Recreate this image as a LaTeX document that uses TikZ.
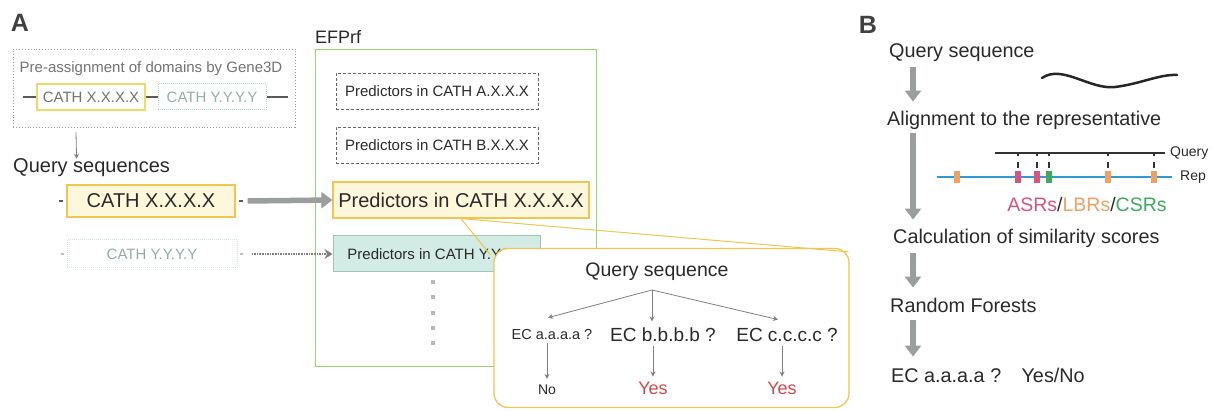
\documentclass[tikz,border=0pt]{standalone}
\usepackage{fontspec}
\setmainfont{Liberation Sans}
\usetikzlibrary{arrows.meta}
\definecolor{lyel}{HTML}{EEDC6A}
\definecolor{oyel}{HTML}{EFC650}
\definecolor{fyel}{HTML}{FDF8DC}
\definecolor{teal1}{HTML}{A9D6CB}
\definecolor{tealfill}{HTML}{D2EBE4}
\definecolor{grn}{HTML}{94D46E}
\definecolor{arrowgray}{HTML}{9A9E9E}
\definecolor{txt}{HTML}{2A2A2A}
\definecolor{redy}{HTML}{D0484F}
\definecolor{asr}{HTML}{D9537F}
\definecolor{lbr}{HTML}{F0A064}
\definecolor{csr}{HTML}{3DAA60}
\definecolor{repblue}{HTML}{2E9AD6}
\begin{document}
\begin{tikzpicture}[x=1pt,y=-1pt,
  every node/.style={inner sep=0pt, text=txt},
  fs/.style={font=\fontsize{#1}{#1}\selectfont},
  panellabel/.style={font=\fontsize{25}{25}\selectfont\bfseries, text=black!75},
  bigarrow/.style={draw=arrowgray, line width=5.5pt, -{Triangle[width=16pt,length=11pt]}},
  thinarrow/.style={draw=gray, line width=0.8pt, -{Stealth[length=5pt,width=5pt]}},
  dotarrow/.style={draw=gray, line width=1.6pt, densely dotted, -{Stealth[length=8pt,width=10pt]}},
  seqline/.style={draw=gray!70!black, line width=1.5pt},
  predbox/.style={draw=gray!80!black, densely dashed, line width=0.7pt, minimum width=202pt, minimum height=36pt, fs=15},
  calloutline/.style={draw=oyel, line width=1pt}
]
\useasboundingbox[fill=white] (0,0) rectangle (1215,411);

% ---------------- Panel A ----------------
\node[panellabel] (la) at (20,23) {A};

\node[draw=gray!80, dotted, line width=0.9pt, minimum width=282pt, minimum height=78pt] (g3) at (154,88) {};
\node[fs=15, text=gray!90!black] (g3t) at (151,69) {Pre-assignment of domains by Gene3D};
\node[draw=lyel, line width=1.2pt, minimum width=108pt, minimum height=26pt, fs=15, text=gray!90!black] (gx) at (91,97) {CATH X.X.X.X};
\node[draw=teal1, densely dotted, line width=1pt, minimum width=108pt, minimum height=26pt, fs=15, text=teal1!55!gray] (gy) at (212,97) {CATH Y.Y.Y.Y};
\draw[seqline] ([xshift=-13pt]gx.west) -- (gx.west);
\draw[seqline] (gx.east) -- (gy.west);
\draw[seqline] (gy.east) -- ([xshift=21pt]gy.east);

\node[fs=20, anchor=west] (qs) at (13,168) {Query sequences};
\draw[thinarrow] ([xshift=-78pt,yshift=-5pt]g3.south) -- ([xshift=-15pt]qs.north);

\node[draw=oyel, fill=fyel, line width=1.2pt, minimum width=168pt, minimum height=32pt, fs=20] (cx) at (151,201) {CATH X.X.X.X};
\draw[seqline] ([xshift=-7pt]cx.west) -- ([xshift=-3pt]cx.west);
\draw[seqline] ([xshift=3pt]cx.east) -- ([xshift=7pt]cx.east);

\node[draw=teal1!60, densely dotted, line width=1pt, minimum width=170pt, minimum height=28pt, fs=15, text=teal1!50!gray] (cy) at (152,254) {CATH Y.Y.Y.Y};
\draw[seqline, draw=gray!50] ([xshift=-6pt]cy.west) -- ([xshift=-3pt]cy.west);
\draw[seqline, draw=gray!50] ([xshift=2pt]cy.east) -- ([xshift=5pt]cy.east);

% EFPrf
\node[draw=grn, line width=1pt, minimum width=281pt, minimum height=317pt] (ef) at (455.5,208.5) {};
\node[fs=18, anchor=west] (eft) at (315,37) {EFPrf};
\node[predbox] (pa) at (437,91) {Predictors in CATH A.X.X.X};
\node[predbox] (pb) at (437,145) {Predictors in CATH B.X.X.X};
\node[draw=oyel, fill=fyel, line width=1.2pt, minimum width=256pt, minimum height=36pt, fs=20] (px) at (461,200) {Predictors in CATH X.X.X.X};
\node[draw=teal1!80!gray, fill=tealfill, line width=1pt, minimum width=207pt, minimum height=36pt, fs=15] (py) at (436.5,254) {Predictors in CATH Y.Y.Y.Y};
\foreach \yy [count=\i] in {282,297,313,328,343}
  \node[fill=gray!55, minimum size=4pt] (dot\i) at (433,\yy) {};

\draw[bigarrow] ([xshift=12pt]cx.east) -- (px.west);
\draw[dotarrow] ([xshift=14pt]cy.east) -- (py.west);

% callout
\node[draw=oyel, line width=1.3pt, rounded corners=14pt, fill=white, minimum width=355pt, minimum height=159pt] (cb) at (671.5,328) {};
\draw[calloutline] (px.south) -- ([xshift=-3pt,yshift=-7pt]cb.north west);
\draw[calloutline] (px.south) -- ([xshift=-1pt,yshift=-4pt]cb.north east);

\node[fs=19.5] (cq) at (657,272) {Query sequence};
\coordinate (split) at (652,290);
\node[fs=14.5] (ea) at (552,335) {EC a.a.a.a ?};
\node[fs=19] (eb) at (663,335) {EC b.b.b.b ?};
\node[fs=19] (ec) at (787,335) {EC c.c.c.c ?};
\node[fs=14] (no) at (547,390) {No};
\node[fs=18, text=redy] (y1) at (653,388) {Yes};
\node[fs=18, text=redy] (y2) at (782,388) {Yes};
\draw[thinarrow] (split) -- ([xshift=-4pt,yshift=12pt]ea.north);
\draw[thinarrow] (split) -- ([xshift=-11pt,yshift=6.5pt]eb.north);
\draw[thinarrow] (split) -- ([xshift=-9pt,yshift=8.5pt]ec.north);
\draw[thinarrow, shorten <=3pt, shorten >=6pt] (ea.south -| no.north) -- (no.north);
\draw[thinarrow, shorten <=4pt, shorten >=5pt] (eb.south -| y1.north) -- (y1.north);
\draw[thinarrow, shorten <=4pt, shorten >=5pt] (ec.south -| y2.north) -- (y2.north);

% ---------------- Panel B ----------------
\node[panellabel] (lb) at (868,25) {B};
\coordinate (ax) at (913,0);
\node[fs=19.8, anchor=west] (bq) at (889,53) {Query sequence};
\node[fs=19.8, anchor=west] (bal) at (887,120) {Alignment to the representative};
\node[fs=19.8, anchor=west] (bcal) at (893,238) {Calculation of similarity scores};
\node[fs=19.8, anchor=west] (brf) at (890,305) {Random Forests};
\node[fs=19.8, anchor=west] (bec) at (891,375) {EC a.a.a.a ?\hspace{13pt} Yes/No};

\draw[bigarrow, shorten <=5pt, shorten >=9pt] (bq.south -| ax) -- (bal.north -| ax);
\draw[bigarrow, shorten <=4pt, shorten >=9pt] (bal.south -| ax) -- (bcal.north -| ax);
\draw[bigarrow, shorten <=6pt, shorten >=10pt] (bcal.south -| ax) -- (brf.north -| ax);
\draw[bigarrow, shorten <=8pt, shorten >=11pt] (brf.south -| ax) -- (bec.north -| ax);

% wave
\draw[line width=2.5pt, black!85, line cap=round] (1042,78) .. controls (1062,64) and (1090,90) .. (1115,87) .. controls (1140,84) and (1160,74) .. (1177,75);

% alignment graphic
\coordinate (qL) at (995,153);
\coordinate (qR) at (1165,153);
\draw[line width=2pt, black!80] (qL) -- (qR);
\node[fs=14, anchor=west] (ql) at (1170,153) {Query};
\coordinate (rL) at (937,177);
\coordinate (rR) at (1172,177);
\draw[line width=2.5pt, repblue] (rL) -- (rR);
\node[fs=14, anchor=west] (rl) at (1180,177) {Rep};
\foreach \x in {1018,1037,1049,1108,1154} {
  \draw[line width=1.2pt, black!80] (\x,153) -- (\x,156);
  \draw[line width=1.2pt, black!80] (\x,162) -- (\x,168);
}
\foreach \x/\c in {957/lbr,1018/asr,1037/asr,1049/csr,1108/lbr,1154/lbr}
  \fill[\c] (\x-3,171) rectangle (\x+3,183);
\node[fs=19.5] (leg) at (1087,205) {\textcolor{asr}{ASRs}/\textcolor{lbr}{LBRs}/\textcolor{csr}{CSRs}};
\end{tikzpicture}
\end{document}
